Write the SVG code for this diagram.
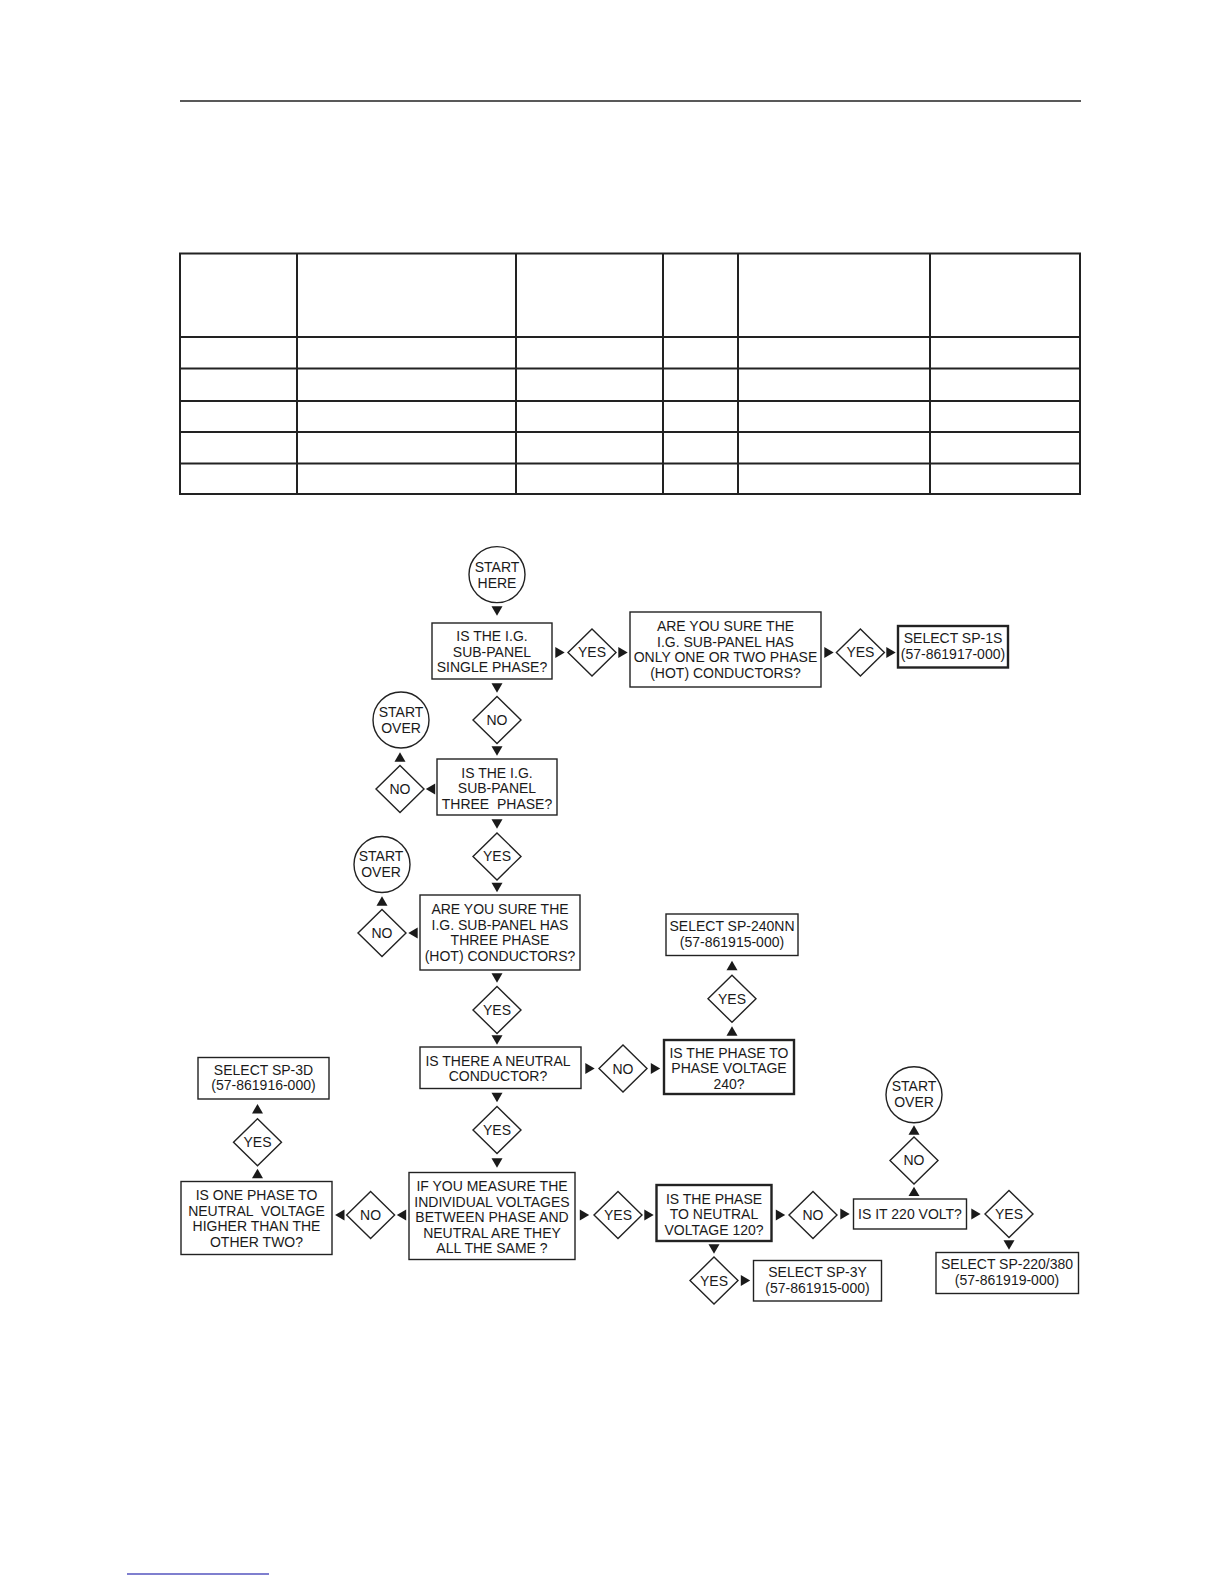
<svg xmlns="http://www.w3.org/2000/svg" width="1224" height="1584" viewBox="0 0 1224 1584">
<style>
text{font-family:"Liberation Sans",Arial,sans-serif;font-size:14px;fill:#1a1a1a;text-anchor:middle}
.box{fill:#fff;stroke:#222;stroke-width:1.4}
.thick{stroke-width:2.4}
.dia{fill:#fff;stroke:#222;stroke-width:1.4}
.circ{fill:#fff;stroke:#222;stroke-width:1.4}
.tbl{stroke:#222;stroke-width:2;fill:none}
.tri{fill:#1a1a1a}
</style>
<defs>
<path id="tri" d="M-5.5,-4.7 L5.5,-4.7 L0,4.7 Z"/>
<path id="dm" d="M0,-23.5 L24,0 L0,23.5 L-24,0 Z"/>
</defs>
<rect width="1224" height="1584" fill="#fff"/>
<line x1="180" y1="101" x2="1081" y2="101" stroke="#222" stroke-width="1.4"/>
<g id="table" class="tbl">
<rect x="180" y="253.5" width="900" height="240.5"/>
<line x1="180" y1="337" x2="1080" y2="337"/>
<line x1="180" y1="368.6" x2="1080" y2="368.6"/>
<line x1="180" y1="401" x2="1080" y2="401"/>
<line x1="180" y1="432" x2="1080" y2="432"/>
<line x1="180" y1="463.5" x2="1080" y2="463.5"/>
<line x1="297" y1="253.5" x2="297" y2="494"/>
<line x1="516" y1="253.5" x2="516" y2="494"/>
<line x1="663" y1="253.5" x2="663" y2="494"/>
<line x1="738" y1="253.5" x2="738" y2="494"/>
<line x1="930" y1="253.5" x2="930" y2="494"/>
</g>
<line x1="127" y1="1574" x2="269" y2="1574" stroke="#0000a0" stroke-width="1.2"/>

<g id="connectors" class="tri">
<use href="#tri" transform="translate(497,611)"/>
<use href="#tri" transform="translate(560,652.4) rotate(-90)"/>
<use href="#tri" transform="translate(623,652.4) rotate(-90)"/>
<use href="#tri" transform="translate(829,652.4) rotate(-90)"/>
<use href="#tri" transform="translate(891,652.4) rotate(-90)"/>
<use href="#tri" transform="translate(497,688)"/>
<use href="#tri" transform="translate(497,751)"/>
<use href="#tri" transform="translate(430.5,789) rotate(90)"/>
<use href="#tri" transform="translate(400,757) rotate(180)"/>
<use href="#tri" transform="translate(497,824)"/>
<use href="#tri" transform="translate(497,887.5)"/>
<use href="#tri" transform="translate(413,933) rotate(90)"/>
<use href="#tri" transform="translate(382,901) rotate(180)"/>
<use href="#tri" transform="translate(497,978)"/>
<use href="#tri" transform="translate(497,1040)"/>
<use href="#tri" transform="translate(590,1068.5) rotate(-90)"/>
<use href="#tri" transform="translate(655.5,1068.5) rotate(-90)"/>
<use href="#tri" transform="translate(732,1031) rotate(180)"/>
<use href="#tri" transform="translate(732,965.5) rotate(180)"/>
<use href="#tri" transform="translate(497,1097.5)"/>
<use href="#tri" transform="translate(497,1163)"/>
<use href="#tri" transform="translate(401.5,1215) rotate(90)"/>
<use href="#tri" transform="translate(339.8,1215) rotate(90)"/>
<use href="#tri" transform="translate(257.5,1173.5) rotate(180)"/>
<use href="#tri" transform="translate(257.5,1108.7) rotate(180)"/>
<use href="#tri" transform="translate(584.5,1215) rotate(-90)"/>
<use href="#tri" transform="translate(649,1215) rotate(-90)"/>
<use href="#tri" transform="translate(714,1249)"/>
<use href="#tri" transform="translate(745.5,1280.6) rotate(-90)"/>
<use href="#tri" transform="translate(780.5,1215) rotate(-90)"/>
<use href="#tri" transform="translate(845,1214) rotate(-90)"/>
<use href="#tri" transform="translate(914,1191.4) rotate(180)"/>
<use href="#tri" transform="translate(914,1130) rotate(180)"/>
<use href="#tri" transform="translate(976,1214) rotate(-90)"/>
<use href="#tri" transform="translate(1009,1245)"/>
</g>

<g id="start_here">
<circle class="circ" cx="497" cy="574.6" r="28"/>
<text x="497" y="571.5">START</text>
<text x="497" y="587.5">HERE</text>
</g>
<g id="q_single_phase">
<rect class="box" x="432" y="623" width="120" height="56"/>
<text x="492" y="641">IS THE I.G.</text>
<text x="492" y="656.5">SUB-PANEL</text>
<text x="492" y="672">SINGLE PHASE?</text>
</g>
<g id="d_yes1">
<use href="#dm" class="dia" transform="translate(592,652.4)"/>
<text x="592" y="657.4">YES</text>
</g>
<g id="q_sure_one_two">
<rect class="box" x="630" y="612" width="191" height="75"/>
<text x="725.5" y="631">ARE YOU SURE THE</text>
<text x="725.5" y="646.5">I.G. SUB-PANEL HAS</text>
<text x="725.5" y="662">ONLY ONE OR TWO PHASE</text>
<text x="725.5" y="677.5">(HOT) CONDUCTORS?</text>
</g>
<g id="d_yes2">
<use href="#dm" class="dia" transform="translate(860.4,652.4)"/>
<text x="860.4" y="657.4">YES</text>
</g>
<g id="sel_sp1s">
<rect class="box thick" x="898" y="626" width="110" height="41.5"/>
<text x="953" y="642.5">SELECT SP-1S</text>
<text x="953" y="658.5">(57-861917-000)</text>
</g>
<g id="d_no1">
<use href="#dm" class="dia" transform="translate(497,720)"/>
<text x="497" y="725">NO</text>
</g>
<g id="q_three_phase">
<rect class="box" x="437" y="759" width="120" height="56"/>
<text x="497" y="777.5">IS THE I.G.</text>
<text x="497" y="793" xml:space="preserve">SUB-PANEL</text>
<text x="497" y="808.5" xml:space="preserve">THREE  PHASE?</text>
</g>
<g id="d_no2">
<use href="#dm" class="dia" transform="translate(400,789)"/>
<text x="400" y="794">NO</text>
</g>
<g id="start_over1">
<circle class="circ" cx="401" cy="720" r="28"/>
<text x="401" y="716.5">START</text>
<text x="401" y="732.5">OVER</text>
</g>
<g id="d_yes3">
<use href="#dm" class="dia" transform="translate(497,856.4)"/>
<text x="497" y="861.4">YES</text>
</g>
<g id="q_sure_three">
<rect class="box" x="420" y="895" width="160" height="75"/>
<text x="500" y="914">ARE YOU SURE THE</text>
<text x="500" y="929.5">I.G. SUB-PANEL HAS</text>
<text x="500" y="945">THREE PHASE</text>
<text x="500" y="960.5">(HOT) CONDUCTORS?</text>
</g>
<g id="d_no3">
<use href="#dm" class="dia" transform="translate(382,933)"/>
<text x="382" y="938">NO</text>
</g>
<g id="start_over2">
<circle class="circ" cx="382" cy="864.5" r="28"/>
<text x="381" y="861">START</text>
<text x="381" y="877">OVER</text>
</g>
<g id="d_yes4">
<use href="#dm" class="dia" transform="translate(497,1010)"/>
<text x="497" y="1015">YES</text>
</g>
<g id="q_neutral">
<rect class="box" x="420" y="1047" width="161" height="41.5"/>
<text x="498" y="1065.5">IS THERE A NEUTRAL</text>
<text x="498" y="1081">CONDUCTOR?</text>
</g>
<g id="d_no4">
<use href="#dm" class="dia" transform="translate(623,1068.5)"/>
<text x="623" y="1073.5">NO</text>
</g>
<g id="q_phase_240">
<rect class="box thick" x="664" y="1040" width="130" height="54"/>
<text x="729" y="1057.5">IS THE PHASE TO</text>
<text x="729" y="1073">PHASE VOLTAGE</text>
<text x="729" y="1088.5">240?</text>
</g>
<g id="d_yes5">
<use href="#dm" class="dia" transform="translate(732,998.8)"/>
<text x="732" y="1003.8">YES</text>
</g>
<g id="sel_sp240nn">
<rect class="box" x="666" y="914" width="132" height="41.5"/>
<text x="732" y="931">SELECT SP-240NN</text>
<text x="732" y="946.5">(57-861915-000)</text>
</g>
<g id="d_yes6">
<use href="#dm" class="dia" transform="translate(497,1130)"/>
<text x="497" y="1135">YES</text>
</g>
<g id="q_measure">
<rect class="box" x="409" y="1172.5" width="166" height="87"/>
<text x="492" y="1191">IF YOU MEASURE THE</text>
<text x="492" y="1206.5">INDIVIDUAL VOLTAGES</text>
<text x="492" y="1222">BETWEEN PHASE AND</text>
<text x="492" y="1237.5">NEUTRAL ARE THEY</text>
<text x="492" y="1253">ALL THE SAME ?</text>
</g>
<g id="d_no5">
<use href="#dm" class="dia" transform="translate(370.6,1215)"/>
<text x="370.6" y="1220">NO</text>
</g>
<g id="q_one_higher">
<rect class="box" x="181" y="1181.5" width="151" height="73"/>
<text x="256.5" y="1200">IS ONE PHASE TO</text>
<text x="256.5" y="1215.5" xml:space="preserve">NEUTRAL  VOLTAGE</text>
<text x="256.5" y="1231">HIGHER THAN THE</text>
<text x="256.5" y="1246.5">OTHER TWO?</text>
</g>
<g id="d_yes7">
<use href="#dm" class="dia" transform="translate(257.5,1142.2)"/>
<text x="257.5" y="1147.2">YES</text>
</g>
<g id="sel_sp3d">
<rect class="box" x="198" y="1057.5" width="131" height="41.5"/>
<text x="263.5" y="1074.5">SELECT SP-3D</text>
<text x="263.5" y="1090">(57-861916-000)</text>
</g>
<g id="d_yes8">
<use href="#dm" class="dia" transform="translate(618,1215)"/>
<text x="618" y="1220">YES</text>
</g>
<g id="q_neutral_120">
<rect class="box thick" x="656.5" y="1185" width="115" height="56"/>
<text x="714" y="1203.5">IS THE PHASE</text>
<text x="714" y="1219">TO NEUTRAL</text>
<text x="714" y="1234.5">VOLTAGE 120?</text>
</g>
<g id="d_yes9">
<use href="#dm" class="dia" transform="translate(714,1280.6)"/>
<text x="714" y="1285.6">YES</text>
</g>
<g id="sel_sp3y">
<rect class="box" x="753.5" y="1260.5" width="128" height="40.5"/>
<text x="817.5" y="1277">SELECT SP-3Y</text>
<text x="817.5" y="1292.5">(57-861915-000)</text>
</g>
<g id="d_no6">
<use href="#dm" class="dia" transform="translate(813,1215)"/>
<text x="813" y="1220">NO</text>
</g>
<g id="q_220">
<rect class="box" x="853.5" y="1199" width="113" height="30"/>
<text x="910" y="1219">IS IT 220 VOLT?</text>
</g>
<g id="d_no7">
<use href="#dm" class="dia" transform="translate(914,1160.4)"/>
<text x="914" y="1165.4">NO</text>
</g>
<g id="start_over3">
<circle class="circ" cx="914" cy="1094.7" r="28"/>
<text x="914" y="1091">START</text>
<text x="914" y="1107">OVER</text>
</g>
<g id="d_yes10">
<use href="#dm" class="dia" transform="translate(1009,1214)"/>
<text x="1009" y="1219">YES</text>
</g>
<g id="sel_sp220">
<rect class="box" x="936" y="1252.5" width="142.5" height="41"/>
<text x="1007" y="1269">SELECT SP-220/380</text>
<text x="1007" y="1284.5">(57-861919-000)</text>
</g>
</svg>
